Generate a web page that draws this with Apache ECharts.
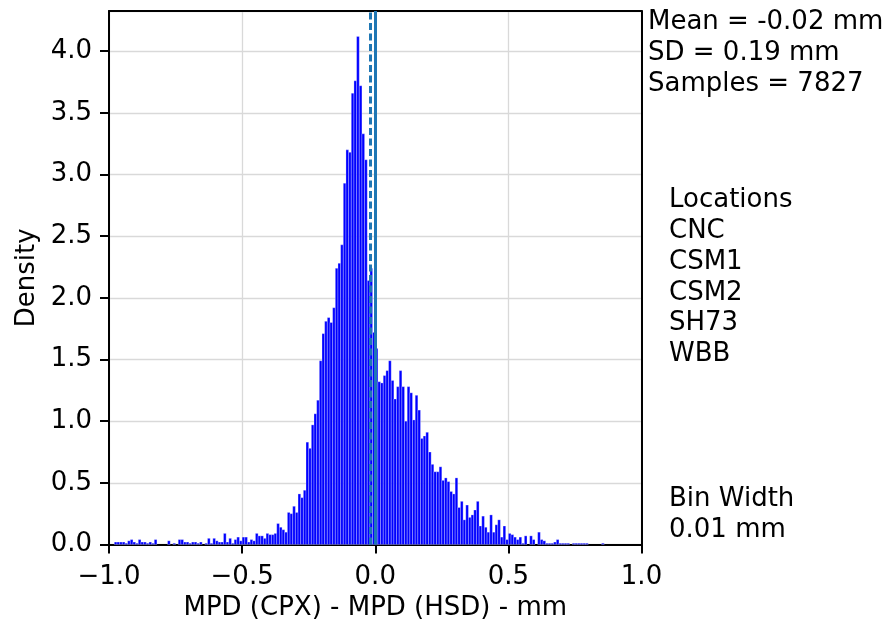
<!DOCTYPE html>
<html><head><meta charset="utf-8">
<script src="https://cdn.jsdelivr.net/npm/echarts@6/dist/echarts.min.js"></script>
<style>html,body{margin:0;padding:0;background:#fff}#c{width:894px;height:628px}</style>
</head><body><div id="c"></div>
<script>
// ---- data ----
const binStart = -1.0;      // left edge of first bin (mm)
const binWidth = 0.01;      // mm
// density of each 0.01 mm bin, from -1.00 to 0.99
const density = [
  0, 0, 0.02, 0.02, 0.02, 0.02, 0.01, 0.03, 0.04, 0.02,
  0.01, 0.04, 0.02, 0.02, 0.01, 0.02, 0.01, 0.04, 0, 0,
  0, 0, 0.03, 0, 0.01, 0, 0.04, 0.04, 0.02, 0.02,
  0.01, 0.02, 0.02, 0.01, 0.02, 0, 0.01, 0.05, 0.01, 0.05,
  0.03, 0.02, 0.02, 0.09, 0.02, 0.05, 0.01, 0.04, 0.06, 0.03,
  0.06, 0.06, 0.02, 0.04, 0.03, 0.09, 0.07, 0.07, 0.05, 0.09,
  0.08, 0.08, 0.09, 0.17, 0.14, 0.12, 0.10, 0.26, 0.25, 0.31,
  0.26, 0.41, 0.38, 0.44, 0.83, 0.78, 0.97, 1.06, 1.17, 1.49,
  1.71, 1.81, 1.84, 1.80, 1.92, 2.24, 2.28, 2.43, 2.93, 3.20,
  3.18, 3.66, 3.76, 4.12, 3.72, 3.33, 3.12, 2.14, 2.24, 1.72,
  1.59, 1.32, 1.31, 1.37, 1.41, 1.49, 1.33, 1.18, 1.28, 1.41,
  1.28, 1.00, 1.28, 1.23, 1.01, 1.21, 1.09, 0.86, 0.88, 0.91,
  0.75, 0.65, 0.59, 0.59, 0.63, 0.52, 0.54, 0.51, 0.43, 0.41,
  0.54, 0.30, 0.35, 0.20, 0.32, 0.22, 0.24, 0.28, 0.35, 0.15,
  0.23, 0.14, 0.10, 0.24, 0.10, 0.16, 0.20, 0.06, 0.15, 0.04,
  0.09, 0.08, 0.06, 0.04, 0.06, 0.01, 0.07, 0, 0.07, 0.04,
  0, 0.10, 0.04, 0.03, 0.01, 0.01, 0.01, 0.02, 0.04, 0.01,
  0.01, 0.01, 0.01, 0, 0.01, 0.01, 0.01, 0.01, 0.01, 0.01,
  0, 0, 0, 0, 0, 0.01, 0, 0, 0, 0,
  0, 0, 0, 0, 0, 0, 0, 0, 0, 0
];
const meanLineX = -0.023;   // dashed line (mean)
const zeroLineX = 0.0;      // solid line
const xTicks = [-1.0, -0.5, 0.0, 0.5, 1.0];
const yTicks = [0.0, 0.5, 1.0, 1.5, 2.0, 2.5, 3.0, 3.5, 4.0];
const statsText = ['Mean = -0.02 mm', 'SD = 0.19 mm', 'Samples = 7827'];
const locationText = ['Locations', 'CNC', 'CSM1', 'CSM2', 'SH73', 'WBB'];
const binText = ['Bin Width', '0.01 mm'];
const xTitle = 'MPD (CPX) - MPD (HSD) - mm';
const yTitle = 'Density';

// ---- chart ----
const FONT = 'DejaVu Sans';
const FS = 26;
const binData = density.map((d, i) => {
  const x0 = binStart + i * binWidth;
  return [x0, x0 + binWidth, d];
});
const yMax = Math.max(...density) * 1.05;
const fmt = v => (Math.round(v * 10) / 10).toFixed(1).replace('-', '\u2212');
const spine = {show: true, onZero: false, lineStyle: {color: '#000', width: 2}};

const chart = echarts.init(document.getElementById('c'), null, {renderer: 'canvas'});
chart.setOption({
  animation: false,
  backgroundColor: '#ffffff',
  textStyle: {fontFamily: FONT},
  grid: {left: 109, right: 252.5, top: 11, bottom: 83.5, show: false},
  xAxis: [{
    type: 'value', min: xTicks[0], max: xTicks[xTicks.length - 1], interval: 0.5,
    name: xTitle, nameLocation: 'middle', nameGap: 50,
    nameTextStyle: {fontSize: FS, color: '#000', fontFamily: FONT},
    axisLine: spine,
    axisTick: {show: true, length: 9, lineStyle: {color: '#000', width: 2}},
    axisLabel: {fontSize: FS, color: '#000', margin: 20, fontFamily: FONT,
                formatter: v => fmt(v)},
    splitLine: {show: true, lineStyle: {color: '#d9d9d9', width: 1.3}}
  }, {
    type: 'value', position: 'top', min: xTicks[0], max: xTicks[xTicks.length - 1],
    axisLine: spine, axisTick: {show: false}, axisLabel: {show: false}, splitLine: {show: false}
  }],
  yAxis: [{
    type: 'value', min: 0, max: yMax, interval: 0.5,
    name: yTitle, nameLocation: 'middle', nameGap: 64,
    nameTextStyle: {fontSize: FS, color: '#000', fontFamily: FONT},
    axisLine: spine,
    axisTick: {show: true, length: 9, lineStyle: {color: '#000', width: 2}},
    axisLabel: {fontSize: FS, color: '#000', margin: 17, fontFamily: FONT, showMaxLabel: false,
                formatter: v => (yTicks.some(t => Math.abs(t - v) < 1e-6) ? fmt(v) : '')},
    splitLine: {show: true, lineStyle: {color: '#d9d9d9', width: 1.3}}
  }, {
    type: 'value', position: 'right', min: 0, max: yMax,
    axisLine: spine, axisTick: {show: false}, axisLabel: {show: false}, splitLine: {show: false}
  }],
  series: [{
    type: 'custom',
    xAxisIndex: 0, yAxisIndex: 0,
    data: binData,
    encode: {x: [0, 1], y: 2},
    renderItem: function (params, api) {
      const x0 = api.value(0), x1 = api.value(1), y = api.value(2);
      if (!(y > 0)) return null;
      const p0 = api.coord([x0, y]);
      const p1 = api.coord([x1, 0]);
      return {
        type: 'rect',
        shape: {x: p0[0], y: p0[1], width: p1[0] - p0[0], height: p1[1] - p0[1]},
        style: {fill: '#0000ff', stroke: 'rgba(255,255,255,0.55)', lineWidth: 0.5}
      };
    },
    markLine: {
      silent: true, symbol: 'none', label: {show: false},
      lineStyle: {color: '#1f77b4', width: 3, opacity: 1},
      data: [
        {xAxis: meanLineX, lineStyle: {type: [7, 3.5], color: '#1f77b4', width: 3}},
        {xAxis: zeroLineX, lineStyle: {type: 'solid', color: '#1f77b4', width: 3}}
      ],
      z: 10
    }
  }],
  graphic: [
    {type: 'text', left: 648, top: 7, style: {text: statsText.join('\n'), font: FS + 'px "' + FONT + '"', fill: '#000', lineHeight: 30.7}},
    {type: 'text', left: 669, top: 185, style: {text: locationText.join('\n'), font: FS + 'px "' + FONT + '"', fill: '#000', lineHeight: 30.8}},
    {type: 'text', left: 669, top: 484, style: {text: binText.join('\n'), font: FS + 'px "' + FONT + '"', fill: '#000', lineHeight: 30.5}}
  ]
});
</script>
</body></html>
